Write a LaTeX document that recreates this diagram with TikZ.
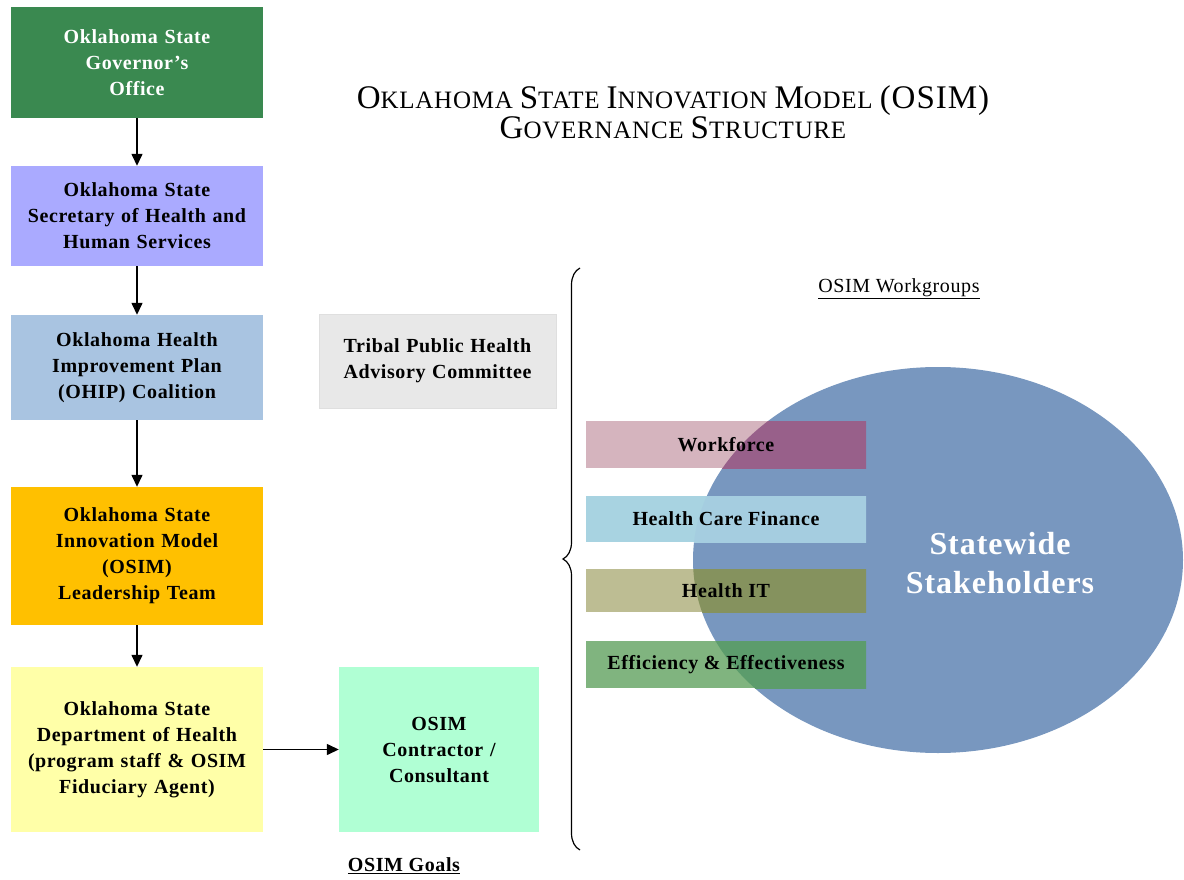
\documentclass[tikz,border=0pt]{standalone}
\usepackage{fontspec}
\setmainfont{Liberation Serif}[LetterSpace=3]
\usetikzlibrary{arrows.meta,decorations.pathreplacing}

\definecolor{govgreen}{RGB}{58,137,80}
\definecolor{secviolet}{RGB}{170,170,255}
\definecolor{ohipblue}{RGB}{169,196,225}
\definecolor{leadorange}{RGB}{255,192,0}
\definecolor{deptyellow}{RGB}{255,255,168}
\definecolor{contrmint}{RGB}{176,255,212}
\definecolor{tribalgray}{RGB}{232,232,232}
\definecolor{hubblue}{RGB}{120,151,191}
\definecolor{worklight}{RGB}{213,180,190}
\definecolor{workdark}{RGB}{152,96,138}
\definecolor{finlight}{RGB}{168,211,225}
\definecolor{findark}{RGB}{165,205,224}
\definecolor{hitlight}{RGB}{189,189,147}
\definecolor{hitdark}{RGB}{133,146,94}
\definecolor{efflight}{RGB}{128,180,127}
\definecolor{effdark}{RGB}{92,156,108}

\newcommand\headcap[1]{{\fontsize{33}{30}\selectfont #1}}

\begin{document}
\begin{tikzpicture}[x=1pt,y=-1pt]
\tikzstyle{orgbox}=[rectangle,inner sep=0pt,align=center,minimum width=252pt,text width=244pt,font=\bfseries\fontsize{20}{26}\selectfont]
\tikzstyle{flow}=[-{Triangle[length=12pt,width=11pt]},line width=1.4pt]
\tikzstyle{heading}=[inner sep=0pt,align=center,font=\fontsize{20}{26}\selectfont]
\tikzset{bar/.style={rectangle,inner sep=0pt,minimum width=280pt,fill=#1light,
  font=\bfseries\fontsize{20}{26}\selectfont,
  path picture={\fill[#1dark] (hub) ellipse [x radius=245pt,y radius=193pt];}}}
\useasboundingbox (0,0) rectangle (1184,880);

% title
\node[heading,font=\fontsize{25}{30}\selectfont] (title) at (673,112)
  {\headcap{O}KLAHOMA \headcap{S}TATE \headcap{I}NNOVATION \headcap{M}ODEL \headcap{(OSIM)}\\
   \headcap{G}OVERNANCE \headcap{S}TRUCTURE};

% chain of command
\node[orgbox,fill=govgreen,text=white,minimum height=111pt] (gov) at (137,62.5)
  {Oklahoma State\\Governor's\\Office};
\node[orgbox,fill=secviolet,minimum height=100pt] (sec) at (137,216)
  {Oklahoma State\\Secretary of Health and\\Human Services};
\node[orgbox,fill=ohipblue,minimum height=105pt] (ohip) at (137,367.5)
  {Oklahoma Health\\Improvement Plan\\(OHIP) Coalition};
\node[orgbox,fill=leadorange,minimum height=138pt] (lead) at (137,556)
  {Oklahoma State\\Innovation Model\\(OSIM)\\Leadership Team\\[6pt]};
\node[orgbox,fill=deptyellow,minimum height=165pt] (dept) at (137,749.5)
  {Oklahoma State\\Department of Health\\(program staff \& OSIM\\Fiduciary Agent)};
\node[orgbox,fill=contrmint,minimum width=200pt,text width=190pt,minimum height=165pt] (contr) at (439,749.5)
  {OSIM\\Contractor /\\Consultant};
\node[orgbox,fill=tribalgray,draw=gray!25,minimum width=237pt,text width=225pt,minimum height=94pt] (tribal) at (437.5,361)
  {Tribal Public Health\\Advisory Committee};

\draw[flow] (gov) -- (sec);
\draw[flow] (sec) -- (ohip);
\draw[flow] (ohip) -- (lead);
\draw[flow] (lead) -- (dept);
\draw[flow] (dept) -- (contr);

\node[heading,font=\bfseries\fontsize{20}{26}\selectfont] (goals) at (404,866) {\underline{OSIM Goals}};

% brace
\coordinate (bracebot) at (580,850);
\coordinate (bracetop) at (580,268);
\draw[line width=1.2pt,decorate,decoration={brace,amplitude=17pt}] (bracebot) -- (bracetop);

% workgroups
\node[heading] (groups) at (899,289) {\underline{OSIM Workgroups}};
\coordinate (hub) at (938,560);
\fill[hubblue] (hub) ellipse [x radius=245pt,y radius=193pt];
\node[heading,text=white,font=\bfseries\fontsize{32}{39}\selectfont] (stake) at (1000,563)
  {Statewide\\Stakeholders};

\node[bar=work,minimum height=47pt] (work) at (726,444.5) {Workforce};
\node[bar=fin,minimum height=46pt] (fin) at (726,519) {Health Care Finance};
\node[bar=hit,minimum height=43pt] (hit) at (726,590.5) {Health IT};
\node[bar=eff,minimum height=47pt] (eff) at (726,664.5) {Efficiency \& Effectiveness};
\end{tikzpicture}
\end{document}
